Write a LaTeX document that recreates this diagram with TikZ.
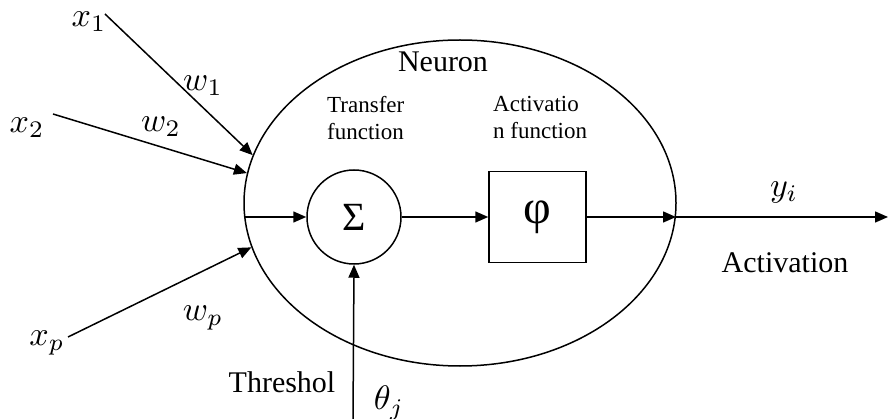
\documentclass[tikz,border=0pt]{standalone}
\usepackage{graphicx}
\usepackage{fontspec}
\setmainfont{Liberation Serif}
\usetikzlibrary{shapes.geometric,arrows.meta,calc}
\newcommand{\mlab}[1]{\scalebox{3.4}{$#1$}}
\tikzset{
  wire/.style={line width=1.5pt},
  arr/.style={wire,-{Triangle[length=13pt,width=11pt]}},
  bigtxt/.style={font=\fontsize{30}{34}\selectfont},
  mathlbl/.style={font=\fontsize{10}{12}\selectfont,inner sep=0pt},
  smalltxt/.style={font=\fontsize{23}{27}\selectfont,align=left,inner sep=0pt},
}
\begin{document}
\begin{tikzpicture}[x=1pt,y=-1pt]
\useasboundingbox (0,0) rectangle (888,419);
% shapes
\node[draw,wire,ellipse,minimum width=432pt,minimum height=326pt,inner sep=0pt] (neuron) at (460,203) {};
\node[draw,wire,circle,minimum size=94pt,inner sep=0pt,font=\fontsize{40}{44}\selectfont] (sig) at (354,217) {Σ};
\node[draw,wire,rectangle,minimum width=97pt,minimum height=91pt,inner sep=0pt,font=\fontsize{48}{52}\selectfont] (phi) at (537.5,217) {φ};
% texts
\node[bigtxt] (tneuron) at (443,62) {Neuron};
\node[smalltxt,anchor=west] (ttransfer) at (327,118) {Transfer\\function};
\node[smalltxt,anchor=west] (tactfun) at (493,118) {Activatio\\n function};
\node[bigtxt] (tact) at (785,263) {Activation};
\node[bigtxt] (tthr) at (282,382) {Threshol};
\node[mathlbl] (lx1) at (89,22) {\mlab{x_1}};
\node[mathlbl] (lx2) at (27,128) {\mlab{x_2}};
\node[mathlbl] (lxp) at (47,343) {\mlab{x_p}};
\node[mathlbl] (lw1) at (203,86) {\mlab{w_1}};
\node[mathlbl] (lw2) at (161,127) {\mlab{w_2}};
\node[mathlbl] (lwp) at (203,318) {\mlab{w_p}};
\node[mathlbl] (ly) at (784,192) {\mlab{y_i}};
\node[mathlbl] (lth) at (389,403) {\mlab{\theta_j}};
% free ends
\coordinate (s1) at (105,14);
\coordinate (s2) at (53,114);
\coordinate (sp) at (68,337);
\coordinate (sth) at (353,419);
\coordinate (out) at (888,217);
\coordinate (in0) at (245,217);
\coordinate (exitp) at (676,217);
% connectors
\draw[arr] (s1) -- (neuron.167);
\draw[arr] (s2) -- (neuron.172);
\draw[arr] (sp) -- (neuron.192.5);
\draw[arr] (in0) -- (sig);
\draw[arr] (sth) -- (sig.south);
\draw[arr] (sig) -- (phi);
\draw[arr] (phi) -- (exitp);
\draw[arr] (exitp) -- (out);
\end{tikzpicture}
\end{document}
